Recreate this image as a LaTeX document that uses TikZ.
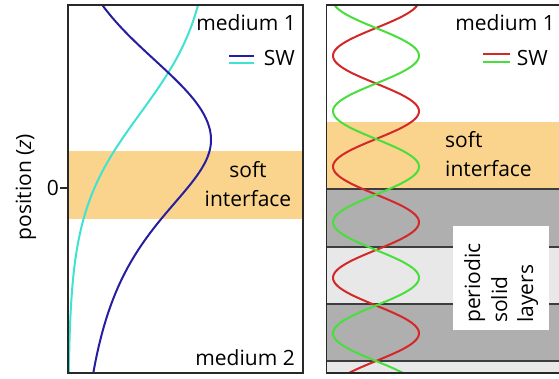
\documentclass[tikz,border=0pt]{standalone}
\usepackage{fontspec}
\setmainfont{Open Sans}
\definecolor{bandorange}{RGB}{250,212,140}
\definecolor{darklayer}{RGB}{175,175,175}
\definecolor{lightlayer}{RGB}{232,232,232}
\definecolor{swnavy}{RGB}{38,30,160}
\definecolor{swcyan}{RGB}{64,226,210}
\definecolor{swred}{RGB}{212,40,40}
\definecolor{swgreen}{RGB}{72,222,60}
\definecolor{framegray}{RGB}{40,40,40}
\tikzset{
  lbl/.style={inner sep=0pt, font=\fontsize{21}{25}\selectfont},
  frame/.style={draw=framegray, line width=2pt},
  sep/.style={draw=framegray!90, line width=1.2pt},
  curve/.style={line width=2pt},
  legline/.style={line width=1.8pt}
}
\begin{document}
\begin{tikzpicture}[x=1pt, y=-1pt]
\useasboundingbox (0,0) rectangle (559,379);

% ---------- left panel: single soft interface ----------
\fill[bandorange] (68,151) rectangle (303,219);
% evanescent field: logistic decay towards medium 2
\draw[curve, swcyan] plot[domain=5:372, samples=150]
  ({68+145/(1+exp((\x-113)/50))}, \x);
% enhanced field: peak near the interface, long tail into medium 2
\draw[curve, swnavy] plot[domain=5:140, samples=80]
  ({68+143*exp(-((\x-140)/113)^2)}, \x)
  -- plot[domain=140:372, samples=120]
  ({68+143/(1+((\x-140)/108)^2)}, \x);
\draw[frame] (68,5) rectangle (303,373);
\node (tick0) [lbl, anchor=east] at (59,188) {0};
\draw[line width=1.2pt, framegray] (60,188) -- (68,188);
\node (zlabel) [lbl, rotate=90] at (26,187) {position (\textit{z})};
\node (medL1) [lbl, anchor=base east] at (296,31) {medium 1};
\node (swL) [lbl, anchor=base east] at (295,66) {SW};
\coordinate (lnA) at (229,56);
\coordinate (lnB) at (229,63);
\draw[legline, swnavy] (lnA) -- ++(25,0);
\draw[legline, swcyan] (lnB) -- ++(25,0);
\node (softL) [lbl, anchor=base] at (248,178) {soft};
\node (ifaceL) [lbl, anchor=base] at (248,207) {interface};
\node (medL2) [lbl, anchor=base east] at (295,365) {medium 2};

% ---------- right panel: soft interface on periodic layers ----------
\begin{scope}
\clip (326,0) rectangle (559,379);
\fill[bandorange] (326,122) rectangle (560,189);
\fill[darklayer] (326,189) rectangle (560,247);
\fill[lightlayer] (326,247) rectangle (560,304);
\fill[darklayer] (326,304) rectangle (560,361);
\fill[lightlayer] (326,361) rectangle (560,373);
\foreach \yy in {189,247,304,361}
  \draw[sep] (326,\yy) -- (560,\yy);
\fill[white] (453,226) rectangle (549,330);
% standing waves: half period of 55.5 units, nodes from z = 28
\draw[curve, swred] plot[domain=5:373, samples=220]
  ({376-43*sin(3.2432*(\x-28))}, \x);
\draw[curve, swgreen] plot[domain=5:373, samples=220]
  ({376+43*sin(3.2432*(\x-28))}, \x);
\draw[frame] (561,5) -- (326,5) -- (326,373) -- (561,373);
\end{scope}
\node (medR1) [lbl, anchor=base east] at (555,31) {medium 1};
\node (swR) [lbl, anchor=base east] at (548,66) {SW};
\coordinate (lnC) at (483,54);
\coordinate (lnD) at (483,62);
\draw[legline, swred] (lnC) -- ++(27,0);
\draw[legline, swgreen] (lnD) -- ++(27,0);
\node (softR) [lbl, anchor=base west] at (445,148) {soft};
\node (ifaceR) [lbl, anchor=base west] at (445,177) {interface};
\node (perR) [lbl, rotate=90, anchor=base west] at (480,323) {periodic};
\node (solR) [lbl, rotate=90, anchor=base west] at (507,323) {solid};
\node (layR) [lbl, rotate=90, anchor=base west] at (533,323) {layers};
\end{tikzpicture}
\end{document}
